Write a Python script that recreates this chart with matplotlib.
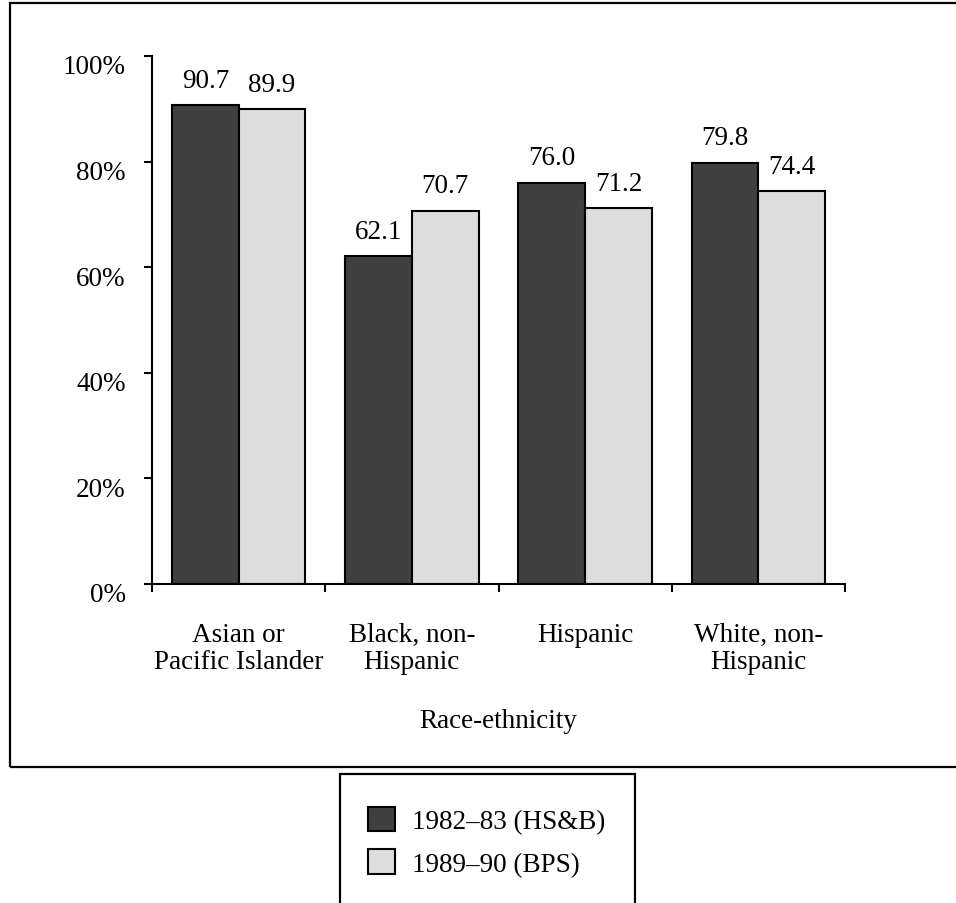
import numpy as np
import matplotlib.pyplot as plt
from matplotlib.patches import Rectangle
from matplotlib.transforms import ScaledTranslation

plt.rcParams['font.family'] = ['Liberation Serif', 'DejaVu Serif']

categories = ['Asian or\nPacific Islander', 'Black, non-\nHispanic', 'Hispanic', 'White, non-\nHispanic']
hsb_1982 = [90.7, 62.1, 76.0, 79.8]
bps_1989 = [89.9, 70.7, 71.2, 74.4]
series_names = ['1982\u201383 (HS&B)', '1989\u201390 (BPS)']
yticks = [0, 20, 40, 60, 80, 100]

FS = 19.5

fig = plt.figure(figsize=(9.56, 9.04), dpi=100)

# outer frame around the plot area and the separate legend box
fig.patches.append(Rectangle((10 / 956, 1 - 768 / 904), 1.0, 764 / 904,
                             transform=fig.transFigure, fill=False,
                             edgecolor='black', linewidth=1.6))
fig.patches.append(Rectangle((340 / 956, -0.05), 295 / 956, 0.05 + 129 / 904,
                             transform=fig.transFigure, fill=False,
                             edgecolor='black', linewidth=1.6))

ax = fig.add_axes([152 / 956, 1 - 585 / 904, 693 / 956, 528 / 904])

x = np.arange(len(categories))
w = 0.385
b1 = ax.bar(x - w / 2, hsb_1982, w, color='#404040', edgecolor='black', linewidth=1.5)
b2 = ax.bar(x + w / 2, bps_1989, w, color='#dddddd', edgecolor='black', linewidth=1.5)
for bars in (b1, b2):
    ax.bar_label(bars, fmt='%.1f', padding=9, fontsize=FS)

ax.set_xlim(-0.5, len(categories) - 0.5)
ax.set_ylim(0, 100)
ax.set_yticks(yticks)
ax.set_yticklabels([f'{t}%' for t in yticks], fontsize=FS)
ax.set_xticks(x)
ax.set_xticklabels(categories, fontsize=FS, linespacing=1.15)
ax.set_xticks(np.arange(len(categories) + 1) - 0.5, minor=True)
ax.tick_params(axis='x', which='major', length=0, pad=27)
ax.tick_params(axis='x', which='minor', length=6, width=1.5, direction='out')
ax.tick_params(axis='y', length=6, width=1.5, direction='out', pad=13)
ax.set_xlabel('Race-ethnicity', fontsize=FS, labelpad=24)

# percent labels sit a little below their tick marks
shift = ScaledTranslation(0, -8 / 100, fig.dpi_scale_trans)
for lbl in ax.get_yticklabels():
    lbl.set_transform(lbl.get_transform() + shift)

for side in ('top', 'right'):
    ax.spines[side].set_visible(False)
for side in ('left', 'bottom'):
    ax.spines[side].set_linewidth(1.5)

fig.legend([b1, b2], series_names, loc='center left',
           bbox_to_anchor=(344 / 956, 1 - 843 / 904), frameon=False,
           fontsize=FS, handlelength=1.0, handleheight=1.0,
           handletextpad=0.6, labelspacing=0.55)

fig.savefig('out.png', dpi=100)
